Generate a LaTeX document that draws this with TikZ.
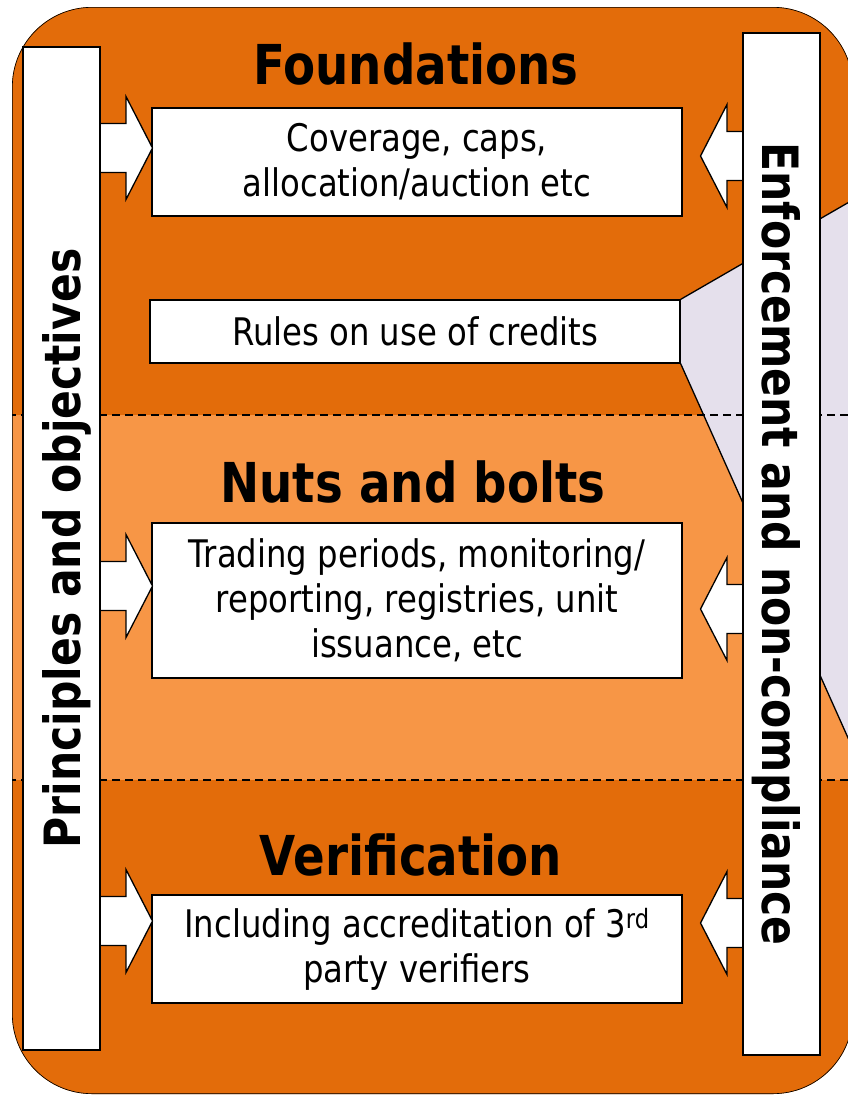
\documentclass[tikz,border=0pt]{standalone}
\usepackage{fontspec}
\setmainfont{DejaVu Sans}[FakeStretch=0.85]
\usetikzlibrary{backgrounds}
\definecolor{darkorange}{HTML}{E36C0A}
\definecolor{lightorange}{HTML}{F79646}
\definecolor{lavender}{HTML}{E5E0EC}

\begin{document}
\begin{tikzpicture}
[
x=1pt,y=-1pt,
outline/.style={draw=black,line width=1.3pt},
textbox/.style={outline,fill=white,align=center,minimum width=530pt,
  font=\fontsize{38}{45}\selectfont},
heading/.style={anchor=base,font=\bfseries\fontsize{55}{60}\selectfont},
sidebar/.style={outline,fill=white,minimum height=77pt,text height=38pt,
  text depth=0pt,font=\bfseries\fontsize{50}{50}\selectfont},
layerline/.style={line width=1.2pt,dash pattern=on 8pt off 5pt},
pics/blockarrow/.style={code={
  \filldraw[fill=white,line width=1.3pt] (0,-24.5) -- (#1,-24.5) -- (#1,-51.5)
    -- (#1+26.5,0) -- (#1,51.5) -- (#1,24.5) -- (0,24.5);
}}
]

\useasboundingbox (0,0) rectangle (848,1095);

% the three layers
\begin{scope}[on background layer]
\clip[rounded corners=80pt] (12,7) rectangle (853,1094);
\fill[darkorange] (0,0) rectangle (860,1095);
\fill[lightorange] (0,415) rectangle (860,780);
\end{scope}

\node[heading] (found) at (416,84) {Foundations};
\node[heading] (nuts) at (413,502) {Nuts and bolts};
\node[heading] (verif) at (411,875) {Verification};

\node[textbox,minimum height=108pt] (cover) at (417,162) {Coverage, caps,\\allocation/auction etc};
\node[textbox,minimum height=63pt] (credits) at (415,331.5) {Rules on use of credits};
\node[textbox,minimum height=155pt] (trading) at (417,600.5)
  {Trading periods, monitoring/\\reporting, registries, unit\\issuance, etc};
\node[textbox,minimum height=108pt] (verify) at (417,949)
  {Including accreditation of 3\textsuperscript{rd}\\party verifiers};

\foreach \y in {148,586,921} \pic at (100,\y) {blockarrow=26};
\foreach \y in {156,609,923} \pic[xscale=-1] at (743,\y) {blockarrow=16};

\node[sidebar,rotate=90,minimum width=1003pt] (princ) at (61.5,548.5) {Principles and objectives};
\node[sidebar,rotate=-90,minimum width=1022pt] (enforce) at (781.5,544) {Enforcement and non-compliance};

% wedge, layer borders and frame
\begin{scope}[on background layer]
\clip (0,0) rectangle (848,1095);
\draw[outline,fill=lavender] (credits.north east) -- (870,190) -- (870,787) -- (credits.south east);
\draw[layerline] (8,415) -- (860,415);
\draw[layerline] (8,780) -- (860,780);
\draw[outline,rounded corners=80pt] (12,7) rectangle (853,1094);
\end{scope}

\end{tikzpicture}
\end{document}
